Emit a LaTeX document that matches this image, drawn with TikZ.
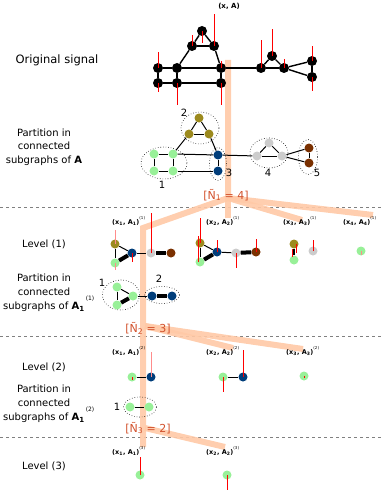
\documentclass[tikz,border=0pt]{standalone}
\usepackage{fontspec}
\setmainfont{DejaVu Sans}
\usetikzlibrary{shapes.geometric}
\definecolor{olv}{HTML}{9C8A1E}
\definecolor{lgr}{HTML}{98F098}
\definecolor{nvy}{HTML}{003D7A}
\definecolor{lgy}{HTML}{CCCCCC}
\definecolor{brn}{HTML}{7A3000}
\definecolor{bandc}{HTML}{FFC9A6}
\definecolor{ntc}{HTML}{D2522D}
\newcommand{\mysup}[1]{\raisebox{4.5pt}{\fontsize{4}{4}\selectfont\mdseries(#1)}}
\newcommand{\mytup}[2]{(x\textsubscript{#1}, A\textsubscript{#1})\mysup{#2}}
\begin{document}
\begin{tikzpicture}[x=1pt,y=-1pt,
 blk/.style={circle,fill=black,minimum size=10pt,inner sep=0pt},
 pn/.style={circle,fill=#1,minimum size=9pt,inner sep=0pt},
 ed/.style={line width=1.4pt},
 te/.style={line width=1pt},
 tk/.style={line width=4pt},
 sig/.style={red,line width=0.9pt},
 psig/.style={red!45,line width=0.9pt},
 bnd/.style={bandc,line width=6pt,opacity=0.9,line join=miter},
 grp/.style={ellipse,draw,dotted,line width=0.6pt,inner sep=0pt},
 dsh/.style={gray,dashed,line width=0.6pt},
 lab/.style={font=\fontsize{10}{13.5}\selectfont,align=center},
 num/.style={font=\fontsize{10}{12}\selectfont,inner sep=0pt},
 tup/.style={font=\fontsize{6.5}{7}\selectfont\bfseries,anchor=base west,inner sep=0pt},
 ntl/.style={font=\fontsize{11}{12}\selectfont,text=ntc,inner sep=0pt},
]
\useasboundingbox (0,0) rectangle (382,492);
% dashed separators
\coordinate (dl1) at (0,207); \coordinate (dr1) at (382,207);
\coordinate (dl2) at (0,336); \coordinate (dr2) at (382,336);
\coordinate (dl3) at (0,437); \coordinate (dr3) at (382,437);
\draw[dsh] (dl1) -- (dr1);
\draw[dsh] (dl2) -- (dr2);
\draw[dsh] (dl3) -- (dr3);
% bands
\coordinate (b0) at (228,60); \coordinate (bf) at (228,198);
\coordinate (bl) at (143,228); \coordinate (bc) at (228,218);
\coordinate (br3) at (302,220); \coordinate (br4) at (373,215);
\coordinate (bf2) at (145,326); \coordinate (bq2) at (233,348); \coordinate (bq3) at (303,349);
\coordinate (bf3) at (145,428); \coordinate (bs2) at (225,447);
\coordinate (bend) at (143,447);
\draw[bnd] (b0) -- (bf) -- (bl) -- (bend);
\draw[bnd] (bf) -- (bc);
\draw[bnd] (bf) -- (br3);
\draw[bnd] (bf) -- (br4);
\draw[bnd] (bf2) -- (bq2);
\draw[bnd] (bf2) -- (bq3);
\draw[bnd] (bf3) -- (bs2);

% left labels
\node[lab,font=\fontsize{11.5}{13.5}\selectfont] (los) at (57,60) {Original signal};
\node[lab] (lp0) at (44,147) {Partition in\\connected\\subgraphs of \textbf{A}};
\node[lab] (lv1) at (44,244) {Level (1)};
\node[lab] (lp1) at (44,293) {Partition in\\connected\\subgraphs of \textbf{A\textsubscript{1}}\rlap{\raisebox{9pt}{\fontsize{6}{6}\selectfont\,(1)}}};
\node[lab] (lv2) at (44,367) {Level (2)};
\node[lab] (lp2) at (44,404) {Partition in\\connected\\subgraphs of \textbf{A\textsubscript{1}}\rlap{\raisebox{9pt}{\fontsize{6}{6}\selectfont\,(2)}}};
\node[lab] (lv3) at (44,466) {Level (3)};

% top signal
\node[font=\fontsize{7}{8}\selectfont\bfseries] (xa) at (229,6) {(x, A)};
\node[blk] (a1) at (202,31) {};
\node[blk] (a2) at (192,46) {};
\node[blk] (a3) at (214,46) {};
\node[blk] (b1) at (158,68) {};
\node[blk] (b2) at (177,68) {};
\node[blk] (b3) at (221,68) {};
\node[blk] (c1) at (158,83) {};
\node[blk] (c2) at (177,83) {};
\node[blk] (c3) at (221,83) {};
\node[blk] (d1) at (261,68) {};
\node[blk] (d2) at (272,56) {};
\node[blk] (d3) at (284,68) {};
\node[blk] (d4) at (312,61) {};
\node[blk] (d5) at (312,77) {};
\foreach \u/\v in {a1/a2,a1/a3,a2/a3,a2/b2,a3/b3,b1/b2,b2/b3,b3/d1,b1/c1,b2/c2,b3/c3,c1/c2,c2/c3,d1/d2,d2/d3,d1/d3,d3/d4,d3/d5,d4/d5}
  \draw[ed] (\u) -- (\v);
\draw[sig] (a1.center) -- ++(0,12);
\draw[sig] (a2.center) -- ++(0,-11);
\draw[sig] (a3.center) -- ++(0,-32);
\draw[sig] (b1.center) -- ++(0,-16);
\draw[sig] (b3.center) -- ++(0,-7);
\draw[sig] (c1.center) -- ++(0,9);
\draw[sig] (c2.center) -- ++(0,22);
\draw[sig] (c3.center) -- ++(0,22);
\draw[sig] (d1.center) -- ++(0,-28);
\draw[sig] (d2.center) -- ++(0,-27);
\draw[sig] (d3.center) -- ++(0,-9);
\draw[sig] (d4.center) -- ++(0,-15);
\draw[sig] (d5.center) -- ++(0,14);

% partition 0
\node[grp,minimum width=38pt,minimum height=32pt] (e2) at (200,128) {};
\node[grp,minimum width=46pt,minimum height=32pt] (e1) at (164,163) {};
\node[grp,minimum width=17pt,minimum height=33pt] (e3) at (218,164) {};
\node[grp,minimum width=38pt,minimum height=30pt] (e4) at (269,153) {};
\node[grp,minimum width=19pt,minimum height=35pt] (e5) at (308,157) {};
\node[pn=olv] (p2a) at (199,118) {};
\node[pn=olv] (p2b) at (189,134) {};
\node[pn=olv] (p2c) at (209,134) {};
\node[pn=lgr] (p1a) at (154,154) {};
\node[pn=lgr] (p1b) at (173,154) {};
\node[pn=lgr] (p1c) at (154,171) {};
\node[pn=lgr] (p1d) at (173,171) {};
\node[pn=nvy] (p3a) at (218,155) {};
\node[pn=nvy] (p3b) at (218,171) {};
\node[pn=lgy] (p4a) at (257,156) {};
\node[pn=lgy] (p4b) at (269,143) {};
\node[pn=lgy] (p4c) at (282,156) {};
\node[pn=brn] (p5a) at (309,148) {};
\node[pn=brn] (p5b) at (309,163) {};
\foreach \u/\v in {p2a/p2b,p2a/p2c,p2b/p2c,p2b/p1b,p2c/p3a,p1a/p1b,p1c/p1d,p1a/p1c,p1b/p1d,p1b/p3a,p1d/p3b,p3a/p3b,p3a/p4a,p4a/p4b,p4b/p4c,p4a/p4c,p4c/p5a,p4c/p5b,p5a/p5b}
  \draw[te] (\u) -- (\v);
\node[num] (n2) at (184,113) {2};
\node[num] (n1) at (162,185) {1};
\node[num] (n3) at (229,173) {3};
\node[num] (n4) at (268,173) {4};
\node[num] (n5) at (317,173) {5};
\node[ntl] (nt1) at (226,195) {[Ñ\textsubscript{1} = 4]};

% level 1
\node[tup] (t11) at (112,224) {\mytup{1}{1}};
\node[tup] (t12) at (206,224) {\mytup{2}{1}};
\node[tup] (t13) at (283,224) {\mytup{3}{1}};
\node[tup] (t14) at (343,224) {\mytup{4}{1}};
\node[pn=olv] (g1o) at (115,244) {};
\node[pn=lgr] (g1g) at (115,263) {};
\node[pn=nvy] (g1n) at (132,253) {};
\node[pn=lgy] (g1y) at (151,253) {};
\node[pn=brn] (g1b) at (171,253) {};
\draw[te] (g1o) -- (g1g); \draw[te] (g1o) -- (g1n); \draw[tk] (g1g) -- (g1n);
\draw[te] (g1n) -- (g1y); \draw[tk] (g1y) -- (g1b);
\draw[psig] (g1o.center) -- ++(0,-14);
\draw[psig] (g1g.center) -- ++(0,7);
\draw[sig] (g1n.center) -- ++(0,9);
\draw[sig] (g1y.center) -- ++(0,-40);
\node[pn=olv] (g2o) at (200,243) {};
\node[pn=lgr] (g2g) at (200,262) {};
\node[pn=nvy] (g2n) at (217,252) {};
\node[pn=lgy] (g2y) at (236,253) {};
\node[pn=brn] (g2b) at (256,252) {};
\draw[te] (g2o) -- (g2g); \draw[te] (g2o) -- (g2n); \draw[tk] (g2g) -- (g2n);
\draw[te] (g2n) -- (g2y); \draw[tk] (g2y) -- (g2b);
\draw[sig] (g2o.center) -- ++(0,-25);
\draw[sig] ([xshift=-1.5pt]g2g.center) -- ++(0,-26);
\draw[sig] (g2n.center) -- ++(0,-12);
\draw[sig] (g2y.center) -- ++(0,15);
\draw[sig] (g2b.center) -- ++(0,-13);
\node[pn=olv] (g3o) at (294,244) {};
\node[pn=lgr] (g3g) at (294,260) {};
\node[pn=lgy] (g3y) at (313,251) {};
\draw[line width=1.8pt] (g3o) -- (g3g);
\draw[sig] ([xshift=2.5pt]g3o.center) -- ++(0,9);
\draw[sig] ([shift={(-1.5pt,3pt)}]g3g.center) -- ++(0,-8);
\draw[sig] (g3y.center) -- ++(0,-11);
\node[pn=lgr] (g4g) at (361,251) {};
\draw[psig] (g4g.center) -- ++(0,4);

% partition 1
\node[grp,minimum width=37pt,minimum height=30pt] (f1) at (121,295) {};
\node[grp,minimum width=35pt,minimum height=17pt] (f2) at (162,295) {};
\node[pn=lgr] (q1a) at (117,287) {};
\node[pn=lgr] (q1b) at (133,296) {};
\node[pn=lgr] (q1c) at (117,305) {};
\node[pn=nvy] (q2a) at (152,296) {};
\node[pn=nvy] (q2b) at (172,296) {};
\draw[te] (q1a) -- (q1c); \draw[te] (q1a) -- (q1b); \draw[tk] (q1c) -- (q1b);
\draw[te] (q1b) -- (q2a); \draw[tk] (q2a) -- (q2b);
\node[num] (m1) at (102,283) {1};
\node[num] (m2) at (159,279) {2};
\node[ntl] (nt2) at (148,328) {[Ñ\textsubscript{2} = 3]};

% level 2
\node[tup] (t21) at (112,354) {\mytup{1}{2}};
\node[tup] (t22) at (206,354) {\mytup{2}{2}};
\node[tup] (t23) at (286,354) {\mytup{3}{2}};
\node[pn=lgr] (h1g) at (132,377) {};
\node[pn=nvy] (h1n) at (151,377) {};
\draw[te] (h1g) -- (h1n);
\draw[psig] (h1n.center) -- ++(0,-25);
\draw[sig] (h1g.center) -- ++(0,3);
\node[pn=lgr] (h2g) at (223,377) {};
\node[pn=nvy] (h2n) at (243,377) {};
\draw[te] (h2g) -- (h2n);
\draw[sig] (h2n.center) -- ++(0,-27);
\draw[sig] (h2g.center) -- ++(0,15);
\node[pn=lgr] (h3g) at (304,376) {};
\draw[sig] (h3g.center) -- ++(0,1.5);
% partition 2
\node[grp,minimum width=33pt,minimum height=20pt] (u1) at (140,407) {};
\node[pn=lgr] (r1) at (130,407) {};
\node[pn=lgr] (r2) at (149,407) {};
\draw[te] (r1) -- (r2);
\node[num] (k0) at (117,407) {1};
\node[ntl] (nt3) at (148,428) {[Ñ\textsubscript{3} = 2]};

% level 3
\node[tup] (t31) at (112,454) {\mytup{1}{3}};
\node[tup] (t32) at (206,454) {\mytup{2}{3}};
\node[pn=lgr] (k1) at (140,475) {};
\node[pn=lgr] (k2) at (227,475) {};
\draw[sig] (k1.center) -- ++(0,-18);
\draw[sig] (k2.center) -- ++(0,15);
\end{tikzpicture}
\end{document}
